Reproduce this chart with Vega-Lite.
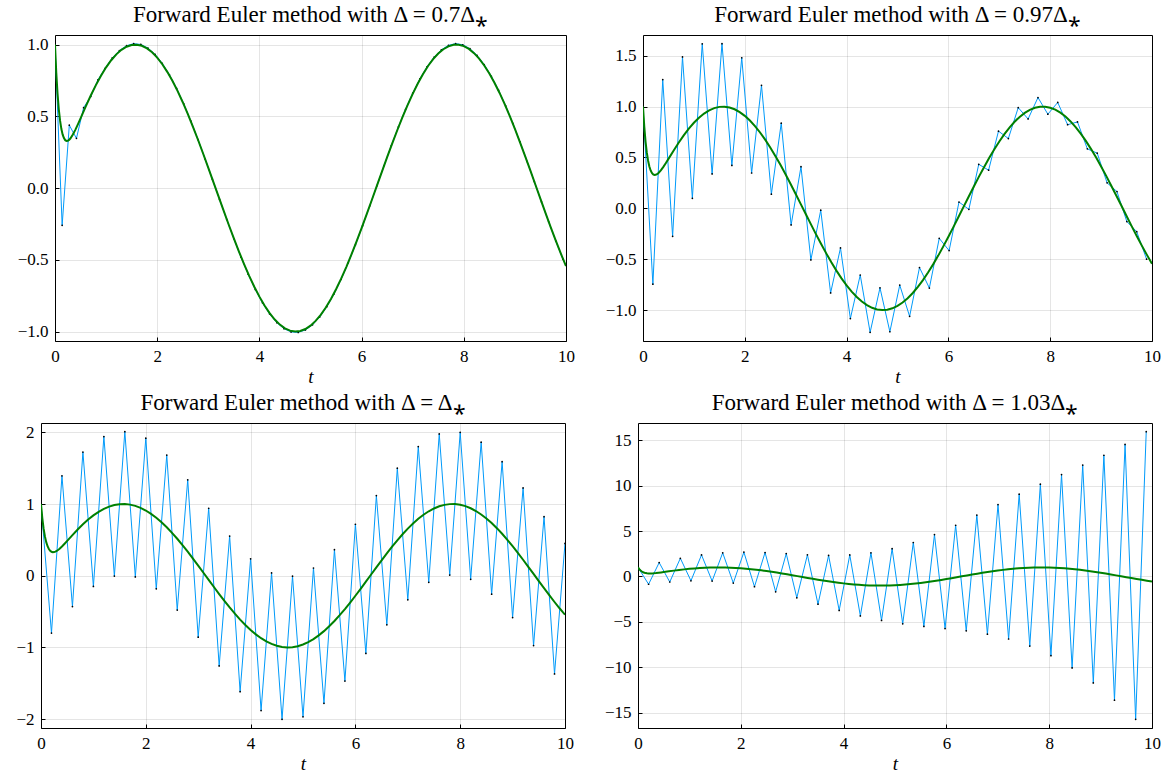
{
  "$schema": "https://vega.github.io/schema/vega-lite/v6.json",
  "background": "#ffffff",
  "padding": {"left": 7, "top": 3, "right": 2, "bottom": 2},
  "spacing": 4,
  "datasets": {
    "exact": [
      {"t":0,"y":1},{"t":0.025,"y":0.8038},{"t":0.05,"y":0.6565},{"t":0.075,"y":0.5473},{"t":0.1,"y":0.4677},{"t":0.125,"y":0.4112},{"t":0.15,"y":0.3726},{"t":0.175,"y":0.3479},{"t":0.2,"y":0.334},{"t":0.225,"y":0.3285},{"t":0.25,"y":0.3295},{"t":0.275,"y":0.3355},{"t":0.3,"y":0.3453},{"t":0.35,"y":0.3731},{"t":0.4,"y":0.4077},{"t":0.45,"y":0.4461},{"t":0.5,"y":0.4862},{"t":0.6,"y":0.5671},{"t":0.7,"y":0.6451},{"t":0.8,"y":0.7177},{"t":0.9,"y":0.7835},{"t":1.0,"y":0.8415},{"t":1.1,"y":0.8912},{"t":1.2,"y":0.932},{"t":1.3,"y":0.9636},{"t":1.4,"y":0.9855},{"t":1.5,"y":0.9975},{"t":1.6,"y":0.9996},{"t":1.7,"y":0.9917},{"t":1.8,"y":0.9738},{"t":1.9,"y":0.9463},{"t":2.0,"y":0.9093},{"t":2.1,"y":0.8632},{"t":2.2,"y":0.8085},{"t":2.3,"y":0.7457},{"t":2.4,"y":0.6755},{"t":2.5,"y":0.5985},{"t":2.6,"y":0.5155},{"t":2.7,"y":0.4274},{"t":2.8,"y":0.335},{"t":2.9,"y":0.2392},{"t":3.0,"y":0.1411},{"t":3.1,"y":0.0416},{"t":3.2,"y":-0.0584},{"t":3.3,"y":-0.1577},{"t":3.4,"y":-0.2555},{"t":3.5,"y":-0.3508},{"t":3.6,"y":-0.4425},{"t":3.7,"y":-0.5298},{"t":3.8,"y":-0.6119},{"t":3.9,"y":-0.6878},{"t":4.0,"y":-0.7568},{"t":4.1,"y":-0.8183},{"t":4.2,"y":-0.8716},{"t":4.3,"y":-0.9162},{"t":4.4,"y":-0.9516},{"t":4.5,"y":-0.9775},{"t":4.6,"y":-0.9937},{"t":4.7,"y":-0.9999},{"t":4.8,"y":-0.9962},{"t":4.9,"y":-0.9825},{"t":5.0,"y":-0.9589},{"t":5.1,"y":-0.9258},{"t":5.2,"y":-0.8835},{"t":5.3,"y":-0.8323},{"t":5.4,"y":-0.7728},{"t":5.5,"y":-0.7055},{"t":5.6,"y":-0.6313},{"t":5.7,"y":-0.5507},{"t":5.8,"y":-0.4646},{"t":5.9,"y":-0.3739},{"t":6.0,"y":-0.2794},{"t":6.1,"y":-0.1822},{"t":6.2,"y":-0.0831},{"t":6.3,"y":0.0168},{"t":6.4,"y":0.1165},{"t":6.5,"y":0.2151},{"t":6.6,"y":0.3115},{"t":6.7,"y":0.4048},{"t":6.8,"y":0.4941},{"t":6.9,"y":0.5784},{"t":7.0,"y":0.657},{"t":7.1,"y":0.729},{"t":7.2,"y":0.7937},{"t":7.3,"y":0.8509},{"t":7.4,"y":0.8987},{"t":7.5,"y":0.938},{"t":7.6,"y":0.9679},{"t":7.7,"y":0.9882},{"t":7.8,"y":0.9985},{"t":7.9,"y":0.9993},{"t":8.0,"y":0.9894},{"t":8.1,"y":0.9703},{"t":8.2,"y":0.9407},{"t":8.3,"y":0.9023},{"t":8.4,"y":0.8546},{"t":8.5,"y":0.7985},{"t":8.6,"y":0.7344},{"t":8.7,"y":0.663},{"t":8.8,"y":0.5849},{"t":8.9,"y":0.5012},{"t":9.0,"y":0.4121},{"t":9.1,"y":0.3191},{"t":9.2,"y":0.2229},{"t":9.3,"y":0.1245},{"t":9.4,"y":0.0248},{"t":9.5,"y":-0.0752},{"t":9.6,"y":-0.1743},{"t":9.7,"y":-0.2718},{"t":9.8,"y":-0.3665},{"t":9.9,"y":-0.4575},{"t":10.0,"y":-0.544}
    ],
    "p1": [
      {"t":0,"y":1},{"t":0.14,"y":-0.2595},{"t":0.28,"y":0.4383},{"t":0.42,"y":0.3466},{"t":0.56,"y":0.5605},{"t":0.7,"y":0.6385},{"t":0.84,"y":0.754},{"t":0.98,"y":0.8347},{"t":1.12,"y":0.9071},{"t":1.26,"y":0.9585},{"t":1.4,"y":0.9924},{"t":1.54,"y":1.0065},{"t":1.68,"y":1.001},{"t":1.82,"y":0.9759},{"t":1.96,"y":0.9317},{"t":2.1,"y":0.8693},{"t":2.24,"y":0.7898},{"t":2.38,"y":0.6949},{"t":2.52,"y":0.5864},{"t":2.66,"y":0.4664},{"t":2.8,"y":0.3373},{"t":2.94,"y":0.2016},{"t":3.08,"y":0.062},{"t":3.22,"y":-0.0789},{"t":3.36,"y":-0.2182},{"t":3.5,"y":-0.3532},{"t":3.64,"y":-0.4814},{"t":3.78,"y":-0.6001},{"t":3.92,"y":-0.7071},{"t":4.06,"y":-0.8002},{"t":4.2,"y":-0.8777},{"t":4.34,"y":-0.938},{"t":4.48,"y":-0.9799},{"t":4.62,"y":-1.0027},{"t":4.76,"y":-1.0059},{"t":4.9,"y":-0.9893},{"t":5.04,"y":-0.9534},{"t":5.18,"y":-0.8989},{"t":5.32,"y":-0.8268},{"t":5.46,"y":-0.7384},{"t":5.6,"y":-0.6357},{"t":5.74,"y":-0.5205},{"t":5.88,"y":-0.3951},{"t":6.02,"y":-0.262},{"t":6.16,"y":-0.1237},{"t":6.3,"y":0.0169},{"t":6.44,"y":0.1573},{"t":6.58,"y":0.2945},{"t":6.72,"y":0.426},{"t":6.86,"y":0.5492},{"t":7.0,"y":0.6616},{"t":7.14,"y":0.7611},{"t":7.28,"y":0.8456},{"t":7.42,"y":0.9137},{"t":7.56,"y":0.9638},{"t":7.7,"y":0.9951},{"t":7.84,"y":1.0069},{"t":7.98,"y":0.999},{"t":8.12,"y":0.9716},{"t":8.26,"y":0.9251},{"t":8.4,"y":0.8606},{"t":8.54,"y":0.7792},{"t":8.68,"y":0.6826},{"t":8.82,"y":0.5726},{"t":8.96,"y":0.4514},{"t":9.1,"y":0.3213},{"t":9.24,"y":0.185},{"t":9.38,"y":0.0451},{"t":9.52,"y":-0.0957},{"t":9.66,"y":-0.2347},{"t":9.8,"y":-0.369},{"t":9.94,"y":-0.4962}
    ],
    "p2": [
      {"t":0,"y":1},{"t":0.194,"y":-0.7453},{"t":0.388,"y":1.2656},{"t":0.582,"y":-0.2755},{"t":0.776,"y":1.488},{"t":0.97,"y":0.099},{"t":1.164,"y":1.6172},{"t":1.358,"y":0.3385},{"t":1.552,"y":1.6191},{"t":1.746,"y":0.4213},{"t":1.94,"y":1.4803},{"t":2.134,"y":0.3475},{"t":2.328,"y":1.2098},{"t":2.522,"y":0.139},{"t":2.716,"y":0.8374},{"t":2.91,"y":-0.1635},{"t":3.104,"y":0.4095},{"t":3.298,"y":-0.5066},{"t":3.492,"y":-0.0183},{"t":3.686,"y":-0.8316},{"t":3.88,"y":-0.3896},{"t":4.074,"y":-1.0836},{"t":4.268,"y":-0.6553},{"t":4.462,"y":-1.2192},{"t":4.656,"y":-0.7816},{"t":4.85,"y":-1.2131},{"t":5.044,"y":-0.7546},{"t":5.238,"y":-1.0616},{"t":5.432,"y":-0.5825},{"t":5.626,"y":-0.7831},{"t":5.82,"y":-0.2949},{"t":6.014,"y":-0.4154},{"t":6.208,"y":0.0622},{"t":6.402,"y":-0.0101},{"t":6.596,"y":0.4327},{"t":6.79,"y":0.3754},{"t":6.984,"y":0.7589},{"t":7.178,"y":0.6864},{"t":7.372,"y":0.99},{"t":7.566,"y":0.8786},{"t":7.76,"y":1.0894},{"t":7.954,"y":0.9256},{"t":8.148,"y":1.0408},{"t":8.342,"y":0.822},{"t":8.536,"y":0.8496},{"t":8.73,"y":0.5847},{"t":8.924,"y":0.5428},{"t":9.118,"y":0.2504},{"t":9.312,"y":0.1649},{"t":9.506,"y":-0.1301},{"t":9.7,"y":-0.2291},{"t":9.894,"y":-0.4992}
    ],
    "p3": [
      {"t":0,"y":1},{"t":0.2,"y":-0.7993},{"t":0.4,"y":1.3933},{"t":0.6,"y":-0.4297},{"t":0.8,"y":1.7246},{"t":1.0,"y":-0.1501},{"t":1.2,"y":1.9414},{"t":1.4,"y":-0.0047},{"t":1.6,"y":2.0096},{"t":1.8,"y":-0.0164},{"t":2.0,"y":1.9184},{"t":2.2,"y":-0.1834},{"t":2.4,"y":1.6822},{"t":2.6,"y":-0.4793},{"t":2.8,"y":1.3383},{"t":3.0,"y":-0.8575},{"t":3.2,"y":0.941},{"t":3.4,"y":-1.2581},{"t":3.6,"y":0.553},{"t":3.8,"y":-1.618},{"t":4.0,"y":0.2356},{"t":4.2,"y":-1.8803},{"t":4.4,"y":0.0389},{"t":4.6,"y":-2.0037},{"t":4.8,"y":-0.0062},{"t":5.0,"y":-1.9685},{"t":5.2,"y":0.1077},{"t":5.4,"y":-1.7805},{"t":5.6,"y":0.3624},{"t":5.8,"y":-1.4693},{"t":6.0,"y":0.7178},{"t":6.2,"y":-1.0839},{"t":6.4,"y":1.1177},{"t":6.6,"y":-0.6853},{"t":6.8,"y":1.4991},{"t":7.0,"y":-0.3364},{"t":7.2,"y":1.8016},{"t":7.4,"y":-0.0923},{"t":7.6,"y":1.9776},{"t":7.8,"y":0.0086},{"t":8.0,"y":1.9993},{"t":8.2,"y":-0.0498},{"t":8.4,"y":1.8632},{"t":8.6,"y":-0.2582},{"t":8.8,"y":1.5908},{"t":9.0,"y":-0.5837},{"t":9.2,"y":1.2251},{"t":9.4,"y":-0.975},{"t":9.6,"y":0.8239},{"t":9.8,"y":-1.3702},{"t":10.0,"y":0.4505}
    ],
    "p4": [
      {"t":0,"y":1},{"t":0.206,"y":-0.8534},{"t":0.412,"y":1.5281},{"t":0.618,"y":-0.6056},{"t":0.824,"y":2.004},{"t":1.03,"y":-0.4721},{"t":1.236,"y":2.3727},{"t":1.442,"y":-0.5016},{"t":1.648,"y":2.6011},{"t":1.854,"y":-0.7194},{"t":2.06,"y":2.6826},{"t":2.266,"y":-1.1225},{"t":2.472,"y":2.6393},{"t":2.678,"y":-1.6811},{"t":2.884,"y":2.5183},{"t":3.09,"y":-2.3445},{"t":3.296,"y":2.385},{"t":3.502,"y":-3.0491},{"t":3.708,"y":2.3122},{"t":3.914,"y":-3.7307},{"t":4.12,"y":2.3689},{"t":4.326,"y":-4.3354},{"t":4.532,"y":2.6096},{"t":4.738,"y":-4.8298},{"t":4.944,"y":3.0656},{"t":5.15,"y":-5.207},{"t":5.356,"y":3.7412},{"t":5.562,"y":-5.4894},{"t":5.768,"y":4.6139},{"t":5.974,"y":-5.7258},{"t":6.18,"y":5.6394},{"t":6.386,"y":-5.9844},{"t":6.592,"y":6.7605},{"t":6.798,"y":-6.3432},{"t":7.004,"y":7.9178},{"t":7.21,"y":-6.8781},{"t":7.416,"y":9.0622},{"t":7.622,"y":-7.6529},{"t":7.828,"y":10.1642},{"t":8.034,"y":-8.7095},{"t":8.24,"y":11.2217},{"t":8.446,"y":-10.0645},{"t":8.652,"y":12.2623},{"t":8.858,"y":-11.7081},{"t":9.064,"y":13.3421},{"t":9.27,"y":-13.6089},{"t":9.476,"y":14.5388},{"t":9.682,"y":-15.7229},{"t":9.888,"y":15.9425}
    ],
    "blank": [{"a": 0}]
  },
  "vconcat": [
    {
      "bounds": "flush",
      "spacing": 0,
      "hconcat": [
        {"width": 13.6, "height": 1, "view": {"stroke": null}, "data": {"name": "blank"}, "mark": {"type": "point", "opacity": 0}, "encoding": {}},
        {
          "width": 511, "height": 306,
          "title": "Forward Euler method with Δ = 0.7Δ⁎",
          "layer": [
            {"data": {"name": "p1"}, "mark": {"type": "line", "color": "#009AFA", "strokeWidth": 1, "clip": true},
             "encoding": {"x": {"field": "t", "type": "quantitative", "scale": {"domain": [0, 10], "nice": false, "zero": false}, "axis": {"values": [0, 2, 4, 6, 8, 10], "title": "t"}},
                          "y": {"field": "y", "type": "quantitative", "scale": {"domain": [-1.066, 1.067], "nice": false, "zero": false}, "axis": {"values": [-1, -0.5, 0, 0.5, 1], "format": ".1f", "title": null, "minExtent": 47, "maxExtent": 47}}}},
            {"data": {"name": "p1"}, "mark": {"type": "circle", "color": "#000000", "size": 3, "opacity": 1, "clip": true},
             "encoding": {"x": {"field": "t", "type": "quantitative"}, "y": {"field": "y", "type": "quantitative"}}},
            {"data": {"name": "exact"}, "mark": {"type": "line", "color": "#008000", "strokeWidth": 2, "clip": true},
             "encoding": {"x": {"field": "t", "type": "quantitative"}, "y": {"field": "y", "type": "quantitative"}}}
          ]
        },
        {"width": 77, "height": 1, "view": {"stroke": null}, "data": {"name": "blank"}, "mark": {"type": "point", "opacity": 0}, "encoding": {}},
        {
          "width": 509, "height": 306,
          "title": "Forward Euler method with Δ = 0.97Δ⁎",
          "layer": [
            {"data": {"name": "p2"}, "mark": {"type": "line", "color": "#009AFA", "strokeWidth": 1, "clip": true},
             "encoding": {"x": {"field": "t", "type": "quantitative", "scale": {"domain": [0, 10], "nice": false, "zero": false}, "axis": {"values": [0, 2, 4, 6, 8, 10], "title": "t"}},
                          "y": {"field": "y", "type": "quantitative", "scale": {"domain": [-1.304, 1.704], "nice": false, "zero": false}, "axis": {"values": [-1, -0.5, 0, 0.5, 1, 1.5], "format": ".1f", "title": null, "minExtent": 40, "maxExtent": 40}}}},
            {"data": {"name": "p2"}, "mark": {"type": "circle", "color": "#000000", "size": 3, "opacity": 1, "clip": true},
             "encoding": {"x": {"field": "t", "type": "quantitative"}, "y": {"field": "y", "type": "quantitative"}}},
            {"data": {"name": "exact"}, "mark": {"type": "line", "color": "#008000", "strokeWidth": 2, "clip": true},
             "encoding": {"x": {"field": "t", "type": "quantitative"}, "y": {"field": "y", "type": "quantitative"}}}
          ]
        }
      ]
    },
    {
      "bounds": "flush",
      "spacing": 0,
      "hconcat": [
        {
          "width": 524, "height": 305,
          "title": "Forward Euler method with Δ = Δ⁎",
          "layer": [
            {"data": {"name": "p3"}, "mark": {"type": "line", "color": "#009AFA", "strokeWidth": 1, "clip": true},
             "encoding": {"x": {"field": "t", "type": "quantitative", "scale": {"domain": [0, 10], "nice": false, "zero": false}, "axis": {"values": [0, 2, 4, 6, 8, 10], "title": "t"}},
                          "y": {"field": "y", "type": "quantitative", "scale": {"domain": [-2.124, 2.13], "nice": false, "zero": false}, "axis": {"values": [-2, -1, 0, 1, 2], "format": "d", "title": null, "minExtent": 33, "maxExtent": 33}}}},
            {"data": {"name": "p3"}, "mark": {"type": "circle", "color": "#000000", "size": 3, "opacity": 1, "clip": true},
             "encoding": {"x": {"field": "t", "type": "quantitative"}, "y": {"field": "y", "type": "quantitative"}}},
            {"data": {"name": "exact"}, "mark": {"type": "line", "color": "#008000", "strokeWidth": 2, "clip": true},
             "encoding": {"x": {"field": "t", "type": "quantitative"}, "y": {"field": "y", "type": "quantitative"}}}
          ]
        },
        {"width": 73, "height": 1, "view": {"stroke": null}, "data": {"name": "blank"}, "mark": {"type": "point", "opacity": 0}, "encoding": {}},
        {
          "width": 514, "height": 305,
          "title": "Forward Euler method with Δ = 1.03Δ⁎",
          "layer": [
            {"data": {"name": "p4"}, "mark": {"type": "line", "color": "#009AFA", "strokeWidth": 1, "clip": true},
             "encoding": {"x": {"field": "t", "type": "quantitative", "scale": {"domain": [0, 10], "nice": false, "zero": false}, "axis": {"values": [0, 2, 4, 6, 8, 10], "title": "t"}},
                          "y": {"field": "y", "type": "quantitative", "scale": {"domain": [-16.673, 16.892], "nice": false, "zero": false}, "axis": {"values": [-15, -10, -5, 0, 5, 10, 15], "format": "d", "title": null, "minExtent": 35, "maxExtent": 35}}}},
            {"data": {"name": "p4"}, "mark": {"type": "circle", "color": "#000000", "size": 3, "opacity": 1, "clip": true},
             "encoding": {"x": {"field": "t", "type": "quantitative"}, "y": {"field": "y", "type": "quantitative"}}},
            {"data": {"name": "exact"}, "mark": {"type": "line", "color": "#008000", "strokeWidth": 2, "clip": true},
             "encoding": {"x": {"field": "t", "type": "quantitative"}, "y": {"field": "y", "type": "quantitative"}}}
          ]
        }
      ]
    }
  ],
  "config": {
    "font": "Liberation Serif",
    "view": {"stroke": "#000000", "strokeWidth": 1},
    "axis": {
      "labelFont": "Liberation Serif, serif", "labelFontSize": 17, "labelColor": "#000000",
      "titleFont": "Liberation Serif, serif", "titleFontSize": 19, "titleFontStyle": "italic", "titleFontWeight": "normal", "titleColor": "#000000",
      "grid": true, "gridColor": "#000000", "gridOpacity": 0.1, "gridWidth": 1,
      "domain": false, "tickColor": "#000000", "tickSize": -4, "tickWidth": 1,
      "labelPadding": 11, "labelFlush": false, "labelOverlap": false, "titlePadding": 3
    },
    "title": {"font": "Liberation Serif", "fontSize": 23, "fontWeight": "normal", "color": "#000000", "anchor": "middle", "offset": 8}
  }
}
